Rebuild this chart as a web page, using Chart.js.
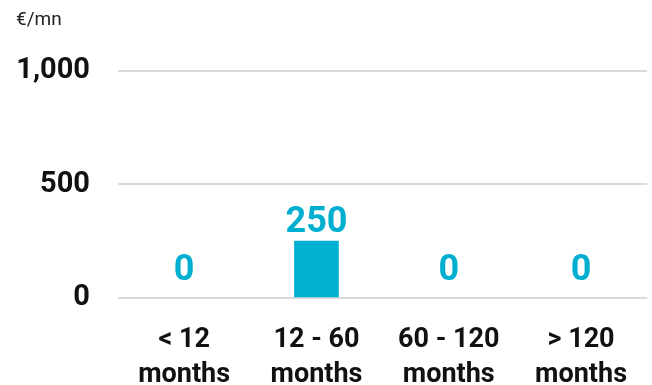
<!DOCTYPE html>
<html>
<head>
<meta charset="utf-8">
<script src="https://cdn.jsdelivr.net/npm/chart.js@4/dist/chart.umd.min.js"></script>
<style>
  html, body { margin: 0; padding: 0; background: #ffffff; }
  #box { width: 652px; height: 385px; }
</style>
</head>
<body>
<div id="box"><canvas id="maturityChart"></canvas></div>
<script>
const categories = [["< 12", "months"], ["12 - 60", "months"], ["60 - 120", "months"], ["> 120", "months"]];
const amounts = [0, 250, 0, 0];
const yTicks = [0, 500, 1000];
const unitLabel = "€/mn";

const C = {
  bar: "#00B1D2",
  value: "#00AFCF",
  ink: "#111111",
  unit: "#222222",
  grid: "#DADADA"
};

// value badges above each bar
const valueLabels = {
  id: "valueLabels",
  afterDatasetsDraw(chart) {
    const ctx = chart.ctx;
    const meta = chart.getDatasetMeta(0);
    ctx.save();
    ctx.fillStyle = C.value;
    ctx.font = "bold 36px Roboto";
    ctx.textAlign = "center";
    ctx.textBaseline = "alphabetic";
    meta.data.forEach((bar, i) => {
      const v = amounts[i];
      const gap = v === 0 ? 18 : 9;
      ctx.fillText(v.toLocaleString("en-US"), bar.x, bar.y - gap);
    });
    ctx.restore();
  }
};

new Chart(document.getElementById("maturityChart"), {
  type: "bar",
  data: {
    labels: categories,
    datasets: [{
      data: amounts,
      // empty bars stay invisible instead of leaving a sliver on the axis
      backgroundColor: amounts.map(v => (v > 0 ? C.bar : "rgba(0,0,0,0)")),
      borderWidth: 0,
      barThickness: 44
    }]
  },
  options: {
    responsive: true,
    maintainAspectRatio: false,
    animation: false,
    layout: { padding: { left: 16, right: -4, top: 0, bottom: 0 } },
    plugins: {
      legend: { display: false },
      tooltip: { enabled: false },
      title: {
        display: true,
        text: unitLabel,
        align: "start",
        color: C.unit,
        font: { family: "Roboto", size: 19, weight: "normal" },
        padding: { top: 9, bottom: 39 }
      }
    },
    scales: {
      x: {
        grid: { display: false, drawTicks: false },
        border: { display: false },
        afterFit(axis) { axis.height = 87; },
        ticks: {
          color: C.ink,
          padding: 25,
          maxRotation: 0,
          autoSkip: false,
          font: { family: "Roboto", size: 27, weight: "bold", lineHeight: 1.3 }
        }
      },
      y: {
        min: 0,
        max: 1000,
        afterBuildTicks(axis) { axis.ticks = yTicks.map(v => ({ value: v })); },
        afterFit(axis) { axis.width = 102; },
        grid: { color: C.grid, lineWidth: 2, drawTicks: false },
        border: { display: false },
        ticks: {
          color: C.ink,
          padding: 28,
          font: { family: "Roboto", size: 29, weight: "bold" },
          callback: v => v.toLocaleString("en-US")
        }
      }
    }
  },
  plugins: [valueLabels]
});
</script>
</body>
</html>
